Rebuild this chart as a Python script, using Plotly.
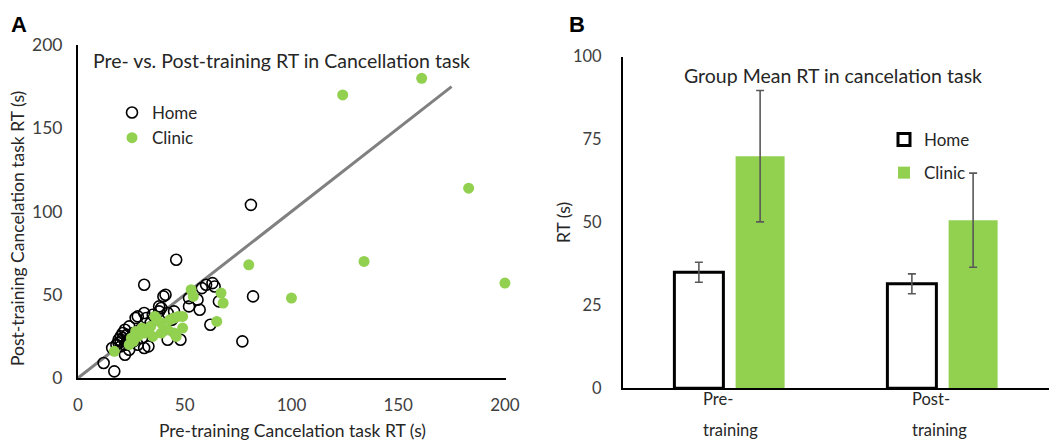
import plotly.graph_objects as go

# ---------------- Panel A data ----------------
home_pre = [81, 82, 77, 46, 31, 40, 62, 12, 17, 60, 63, 58, 64, 57, 52, 52, 56, 66, 42, 48,
            38, 39, 31, 28, 32, 24, 22, 20, 20, 20, 22, 24, 31, 16, 22, 33, 41, 42, 26, 21,
            23, 19, 25, 27, 35, 36, 30, 44, 29, 34, 21, 18, 23, 38, 26, 28, 19, 45]
home_post = [104, 49, 22, 71, 56, 49, 32, 9, 4, 56, 57, 54, 55, 41, 43, 48, 47, 46, 23, 23,
             43, 42, 39, 37, 36, 31, 29, 25, 22, 19, 20, 17, 18, 18, 14, 19, 50, 39, 27, 24,
             26, 21, 23, 36, 38, 30, 24, 35, 29, 33, 27, 20, 22, 40, 22, 20, 23, 40]
clinic_pre = [124, 161, 183, 134, 200, 100, 80, 67, 68, 65, 53, 54, 49, 49, 46, 45, 17, 36,
              34, 39, 31, 28, 26, 35, 39, 43, 24, 47, 45, 42, 30, 33, 37, 27, 25]
clinic_post = [170, 180, 114, 70, 57, 48, 68, 51, 45, 34, 53, 49, 37, 30, 25, 36, 16, 37,
               31, 33, 27, 25, 22, 25, 27, 35, 20, 37, 27, 29, 30, 28, 35, 28, 24]
identity_x = [0, 175]
identity_y = [0, 175]
a_ticks = [0, 50, 100, 150, 200]

# ---------------- Panel B data ----------------
phases = ["Pre-training", "Post-training"]
home_mean = [35, 31.5]
home_err = [3.0, 3.0]
clinic_mean = [70, 50.7]
clinic_err = [19.8, 14.2]
b_ticks = [0, 25, 50, 75, 100]

GREEN = "#92D050"
FONT = "Lato"
TXT = "#262626"
TICK = "#404040"

W, H = 1051, 442
def px(x):
    return x / W
def py(y):
    return 1 - y / H

fig = go.Figure()

fig.add_trace(go.Scatter(x=identity_x, y=identity_y, mode="lines",
                         line=dict(color="#808080", width=3), showlegend=False,
                         xaxis="x", yaxis="y", hoverinfo="skip"))
fig.add_trace(go.Scatter(x=home_pre, y=home_post, mode="markers", name="Home",
                         marker=dict(symbol="circle-open", size=11, color="black",
                                     line=dict(width=1.6, color="black")),
                         cliponaxis=False,
                         xaxis="x", yaxis="y", legend="legend"))
fig.add_trace(go.Scatter(x=clinic_pre, y=clinic_post, mode="markers", name="Clinic",
                         marker=dict(symbol="circle", size=11, color=GREEN),
                         cliponaxis=False,
                         xaxis="x", yaxis="y", legend="legend"))

fig.add_trace(go.Bar(x=phases, y=home_mean, name="Home",
                     marker=dict(color="white", line=dict(color="black", width=3)),
                     error_y=dict(type="data", array=home_err, color="#595959",
                                  thickness=1.6, width=4),
                     xaxis="x2", yaxis="y2", legend="legend2", legendgroup="h"))
fig.add_trace(go.Bar(x=phases, y=clinic_mean, name="Clinic",
                     marker=dict(color=GREEN, line=dict(width=0)),
                     error_y=dict(type="data", array=clinic_err, color="#595959",
                                  thickness=1.6, width=4),
                     xaxis="x2", yaxis="y2", legend="legend2", legendgroup="c"))

axis_common = dict(showgrid=False, zeroline=False, showline=True, linecolor="black",
                   linewidth=2, ticks="", automargin=False)

fig.update_layout(
    width=W, height=H, margin=dict(l=0, r=0, t=0, b=0, autoexpand=False),
    paper_bgcolor="white", plot_bgcolor="white",
    font=dict(family=FONT, color=TXT),
    barmode="group", bargap=0.425, bargroupgap=0.2,
    xaxis=dict(domain=[px(78), px(506)], range=[0, 200.5], tickvals=a_ticks,
               ticklabelstandoff=11, anchor="y",
               tickfont=dict(family=FONT, size=17, color=TICK), **axis_common),
    yaxis=dict(domain=[py(378), py(45)], range=[0, 200], tickvals=a_ticks,
               ticklabelstandoff=10, anchor="x",
               tickfont=dict(family=FONT, size=17.5, color=TICK), **axis_common),
    xaxis2=dict(domain=[px(623), px(1049)], anchor="y2", showticklabels=False, **axis_common),
    yaxis2=dict(domain=[py(388.3), py(56.7)], range=[0, 100], tickvals=b_ticks,
                ticklabelstandoff=16, anchor="x2",
                tickfont=dict(family=FONT, size=16.5, color=TICK), **axis_common),
    legend=dict(x=px(112), y=py(95), xanchor="left", yanchor="top",
                bgcolor="rgba(0,0,0,0)", font=dict(family=FONT, size=17, color=TXT),
                itemwidth=30, tracegroupgap=0),
    legend2=dict(x=px(884), y=py(122), xanchor="left", yanchor="top",
                 bgcolor="rgba(0,0,0,0)", font=dict(family=FONT, size=17, color=TXT),
                 traceorder="grouped", tracegroupgap=8, itemwidth=30),
)

ann = [
    dict(text="<b>A</b>", x=px(19), y=py(24), font=dict(family="Liberation Sans", size=22, color="black")),
    dict(text="<b>B</b>", x=px(577), y=py(24), font=dict(family="Liberation Sans", size=22, color="black")),
    dict(text="Pre- vs. Post-training RT in Cancellation task", x=px(281), y=py(61),
         font=dict(family=FONT, size=19.5, color=TXT)),
    dict(text="Group Mean RT in cancelation task", x=px(833), y=py(75),
         font=dict(family=FONT, size=19.5, color=TXT)),
    dict(text="Pre-training Cancelation task RT (s)", x=px(292), y=py(430),
         font=dict(family=FONT, size=17.5, color=TXT)),
    dict(text="Post-training Cancelation task RT (s)", x=px(17), y=py(229), textangle=-90,
         font=dict(family=FONT, size=17.5, color=TXT)),
    dict(text="RT (s)", x=px(563), y=py(223), textangle=-90,
         font=dict(family=FONT, size=17.5, color=TXT)),
    dict(text="Pre-", x=px(701), y=py(399), xanchor="left",
         font=dict(family=FONT, size=16.5, color=TXT)),
    dict(text="training", x=px(701), y=py(430), xanchor="left",
         font=dict(family=FONT, size=16.5, color=TXT)),
    dict(text="Post-", x=px(910), y=py(399), xanchor="left",
         font=dict(family=FONT, size=16.5, color=TXT)),
    dict(text="training", x=px(910), y=py(430), xanchor="left",
         font=dict(family=FONT, size=16.5, color=TXT)),
]
for a in ann:
    a.setdefault("xanchor", "center")
    a.update(xref="paper", yref="paper", yanchor="middle", showarrow=False)
fig.update_layout(annotations=ann)

fig.write_html("out.html", config={"displayModeBar": False},
               post_script="document.body.style.margin='0';document.body.style.overflow='hidden';")
